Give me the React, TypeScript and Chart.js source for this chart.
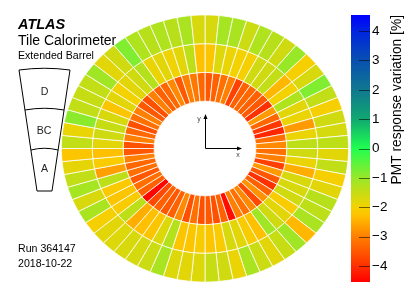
import React, { useEffect, useRef } from "react";
import { Chart, registerables } from "chart.js";

Chart.register(...registerables);

// PMT response variation per module (64 modules, clockwise from the top), one list per layer
const layerD = [
  -1.7, -1.15, -1.2, -1.55, -1.25, -1.35, -1.6, -1.0, -2.05, -1.7, -0.8, -1.45, -2.05, -1.6, -1.65, -1.4,
  -1.8, -1.45, -2.05, -1.8, -1.35, -1.4, -1.2, -2.4, -1.1, -1.5, -1.8, -1.55, -1.2, -1.9, -1.6, -1.5,
  -1.75, -1.8, -1.75, -1.2, -1.55, -1.65, -1.7, -1.75, -1.8, -2.05, -1.2, -1.7, -1.15, -1.45, -1.85, -2.2,
  -1.45, -1.9, -0.9, -1.45, -1.5, -1.45, -1.1, -1.8, -1.6, -0.8, -1.25, -1.35, -1.25, -1.35, -1.2, -1.7,
];
const layerBC = [
  -2.2, -1.75, -1.9, -2.0, -2.05, -1.6, -1.6, -1.45, -2.4, -2.0, -1.25, -1.8, -1.9, -2.7, -1.9, -1.4,
  -1.6, -1.9, -2.5, -1.7, -1.7, -1.6, -2.1, -1.8, -1.6, -1.1, -2.3, -2.1, -1.8, -1.7, -2.1, -2.2,
  -2.1, -2.2, -2.2, -1.3, -1.75, -2.2, -2.3, -2.5, -1.4, -2.1, -2.2, -2.15, -1.4, -2.65, -2.1, -2.3,
  -1.8, -1.6, -1.5, -1.7, -2.2, -1.8, -2.0, -1.8, -1.6, -1.3, -1.9, -1.8, -1.95, -1.8, -1.4, -2.3,
];
const layerA = [
  -3.5, -3.4, -3.2, -3.0, -3.8, -3.4, -3.3, -3.4, -3.5, -4.0, -2.7, -3.3, -3.9, -4.1, -3.2, -2.9,
  -3.2, -3.0, -3.8, -2.7, -3.5, -4.0, -3.4, -2.8, -3.7, -2.9, -3.2, -3.0, -4.4, -3.4, -3.6, -3.5,
  -3.6, -3.2, -3.6, -2.9, -3.4, -3.5, -3.4, -3.7, -4.5, -3.4, -3.2, -3.5, -3.2, -3.3, -3.0, -3.5,
  -3.6, -3.0, -3.3, -3.6, -3.2, -3.0, -3.5, -3.6, -3.0, -3.4, -3.3, -2.9, -3.5, -3.0, -3.1, -3.3,
];
const moduleShare = layerD.map(() => 1);

// Colour bar
const paletteValues = [-4.55, -4, -3, -2.3, -2, -1, 0, 1, 2, 3, 4, 4.55];
const paletteColors = ["#ff0000", "#ff3000", "#ff8000", "#ffc000", "#f4d200", "#98e828", "#20ff50", "#10a870", "#107890", "#0850b0", "#0024e0", "#0000ff"];
const barRange = [-4.55, 4.55];
const barLabel = "PMT response variation [%]";

// Texts
const titleText = "ATLAS";
const subTitle = "Tile Calorimeter";
const partition = "Extended Barrel";
const runText = "Run 364147";
const dateText = "2018-10-22";
const layerNames = ["D", "BC", "A"];

const FONT = '"Liberation Sans", Arial, sans-serif';
const Y_SQUASH = 0.93;

function hexToRgb(h: string) {
  return [1, 3, 5].map((i) => parseInt(h.slice(i, i + 2), 16));
}
function colourFor(v: number) {
  const vs = paletteValues;
  if (v <= vs[0]) return paletteColors[0];
  for (let i = 1; i < vs.length; i++) {
    if (v <= vs[i]) {
      const t = (v - vs[i - 1]) / (vs[i] - vs[i - 1]);
      const a = hexToRgb(paletteColors[i - 1]);
      const b = hexToRgb(paletteColors[i]);
      return `rgb(${a.map((c, k) => Math.round(c + (b[k] - c) * t)).join(",")})`;
    }
  }
  return paletteColors[paletteColors.length - 1];
}

const squashPlugin = {
  id: "squash",
  beforeDatasetsDraw(chart: any) {
    const { ctx, chartArea } = chart;
    const cy = (chartArea.top + chartArea.bottom) / 2;
    ctx.save();
    ctx.translate(0, cy);
    ctx.scale(1, Y_SQUASH);
    ctx.translate(0, -cy);
  },
  afterDatasetsDraw(chart: any) {
    chart.ctx.restore();
  },
};

function arrow(ctx: CanvasRenderingContext2D, x0: number, y0: number, x1: number, y1: number) {
  ctx.beginPath();
  ctx.moveTo(x0, y0);
  ctx.lineTo(x1, y1);
  ctx.stroke();
  const dx = Math.sign(x1 - x0);
  const dy = Math.sign(y1 - y0);
  ctx.beginPath();
  ctx.moveTo(x1 + dx * 2, y1 + dy * 2);
  ctx.lineTo(x1 - dx * 3 + dy * 2, y1 - dy * 3 + dx * 2);
  ctx.lineTo(x1 - dx * 3 - dy * 2, y1 - dy * 3 - dx * 2);
  ctx.closePath();
  ctx.fill();
}

const annotationPlugin = {
  id: "annotation",
  afterDraw(chart: any) {
    const ctx: CanvasRenderingContext2D = chart.ctx;
    ctx.save();
    ctx.fillStyle = "#000";
    ctx.textBaseline = "alphabetic";
    ctx.textAlign = "left";
    ctx.font = `italic bold 14.5px ${FONT}`;
    ctx.fillText(titleText, 18, 29);
    ctx.font = `14px ${FONT}`;
    ctx.fillText(subTitle, 18, 44.5);
    ctx.font = `10.6px ${FONT}`;
    ctx.fillText(partition, 18, 59);
    ctx.fillText(runText, 18, 252);
    ctx.fillText(dateText, 18, 267);

    // detector wedge
    ctx.strokeStyle = "#000";
    ctx.lineWidth = 1;
    const cx = 44.5;
    const halfAt = (y: number) => 25.5 - (y - 70) * (18 / 121);
    const cuts = [70, 110, 150];
    ctx.beginPath();
    ctx.moveTo(cx - halfAt(70), 70);
    ctx.lineTo(cx - 7.5, 191);
    ctx.lineTo(cx + 7.5, 191);
    ctx.lineTo(cx + halfAt(70), 70);
    ctx.stroke();
    cuts.forEach((y) => {
      const h = halfAt(y);
      ctx.beginPath();
      ctx.moveTo(cx - h, y);
      ctx.quadraticCurveTo(cx, y - 3.5, cx + h, y);
      ctx.stroke();
    });
    ctx.textAlign = "center";
    ctx.font = `10.6px ${FONT}`;
    ctx.fillStyle = "#222";
    ctx.fillText(layerNames[0], 44.5, 95);
    ctx.fillText(layerNames[1], 44, 134);
    ctx.fillText(layerNames[2], 44.5, 172);

    // coordinate axes in the hole
    ctx.fillStyle = "#000";
    ctx.strokeStyle = "#000";
    ctx.lineWidth = 1;
    arrow(ctx, 205.5, 148.5, 205.5, 116);
    arrow(ctx, 205.5, 148.5, 240, 148.5);
    ctx.fillStyle = "#444";
    ctx.font = `7px ${FONT}`;
    ctx.fillText("y", 199, 121);
    ctx.fillText("x", 238, 157);
    ctx.restore();
  },
};

const barDecorPlugin = {
  id: "barDecor",
  afterDraw(chart: any) {
    const ctx: CanvasRenderingContext2D = chart.ctx;
    const { chartArea } = chart;
    const y = chart.scales.y;
    ctx.save();
    ctx.strokeStyle = "rgba(0,0,0,0.55)";
    ctx.lineWidth = 1;
    y.ticks.forEach((t: any) => {
      const py = Math.round(y.getPixelForValue(t.value)) + 0.5;
      ctx.beginPath();
      ctx.moveTo(chartArea.right - 11, py);
      ctx.lineTo(chartArea.right, py);
      ctx.stroke();
    });
    ctx.translate(397 - 340, 15);
    ctx.rotate(-Math.PI / 2);
    ctx.fillStyle = "#000";
    ctx.textAlign = "right";
    ctx.textBaseline = "middle";
    ctx.font = `13.8px ${FONT}`;
    ctx.fillText(barLabel, 0, 0);
    ctx.restore();
  },
};

export default function App() {
  const ringRef = useRef<HTMLCanvasElement>(null);
  const barRef = useRef<HTMLCanvasElement>(null);

  useEffect(() => {
    const ring = new Chart(ringRef.current!, {
      type: "doughnut",
      data: {
        labels: moduleShare.map((_, i) => `M${i + 1}`),
        datasets: [layerD, layerBC, layerA].map((values, i) => ({
          label: layerNames[i],
          data: moduleShare,
          backgroundColor: values.map(colourFor),
          borderColor: "#ffffff",
          borderWidth: 0.8,
        })),
      },
      options: {
        animation: false,
        responsive: false,
        cutout: "35.4%",
        layout: { padding: { left: 61, right: 62, top: 0, bottom: 0 } },
        plugins: { legend: { display: false }, tooltip: { enabled: false } },
      },
      plugins: [squashPlugin, annotationPlugin],
    } as any);

    const bar = new Chart(barRef.current!, {
      type: "bar",
      data: {
        labels: ["palette"],
        datasets: [
          {
            data: [barRange],
            barPercentage: 1,
            categoryPercentage: 1,
            backgroundColor: (c: any) => {
              const area = c.chart.chartArea;
              if (!area) return "#888";
              const g = c.chart.ctx.createLinearGradient(0, area.bottom, 0, area.top);
              const span = barRange[1] - barRange[0];
              paletteValues.forEach((v, i) => g.addColorStop((v - barRange[0]) / span, paletteColors[i]));
              return g;
            },
          },
        ],
      },
      options: {
        animation: false,
        responsive: false,
        layout: { padding: { left: 11, right: 0, top: 15, bottom: 15 } },
        plugins: { legend: { display: false }, tooltip: { enabled: false } },
        scales: {
          x: { display: false },
          y: {
            position: "right",
            min: barRange[0],
            max: barRange[1],
            afterFit(s: any) {
              s.width = 41;
            },
            grid: { display: false, drawTicks: false },
            border: { display: false },
            ticks: {
              stepSize: 1,
              includeBounds: false,
              padding: 2,
              align: "center",
              crossAlign: "near",
              color: "#000",
              font: { family: FONT, size: 13.5 },
              callback: (v: any) => (v < 0 ? `\u2212${Math.abs(v)}` : `${v}`),
            },
          },
        },
      },
      plugins: [barDecorPlugin],
    } as any);

    return () => {
      ring.destroy();
      bar.destroy();
    };
  }, []);

  return (
    <div style={{ position: "fixed", left: 0, top: 0, width: 411, height: 297, background: "#fff", overflow: "hidden" }}>
      <canvas ref={ringRef} width={411} height={297} style={{ position: "absolute", left: 0, top: 0 }} />
      <canvas ref={barRef} width={71} height={297} style={{ position: "absolute", left: 340, top: 0 }} />
    </div>
  );
}
